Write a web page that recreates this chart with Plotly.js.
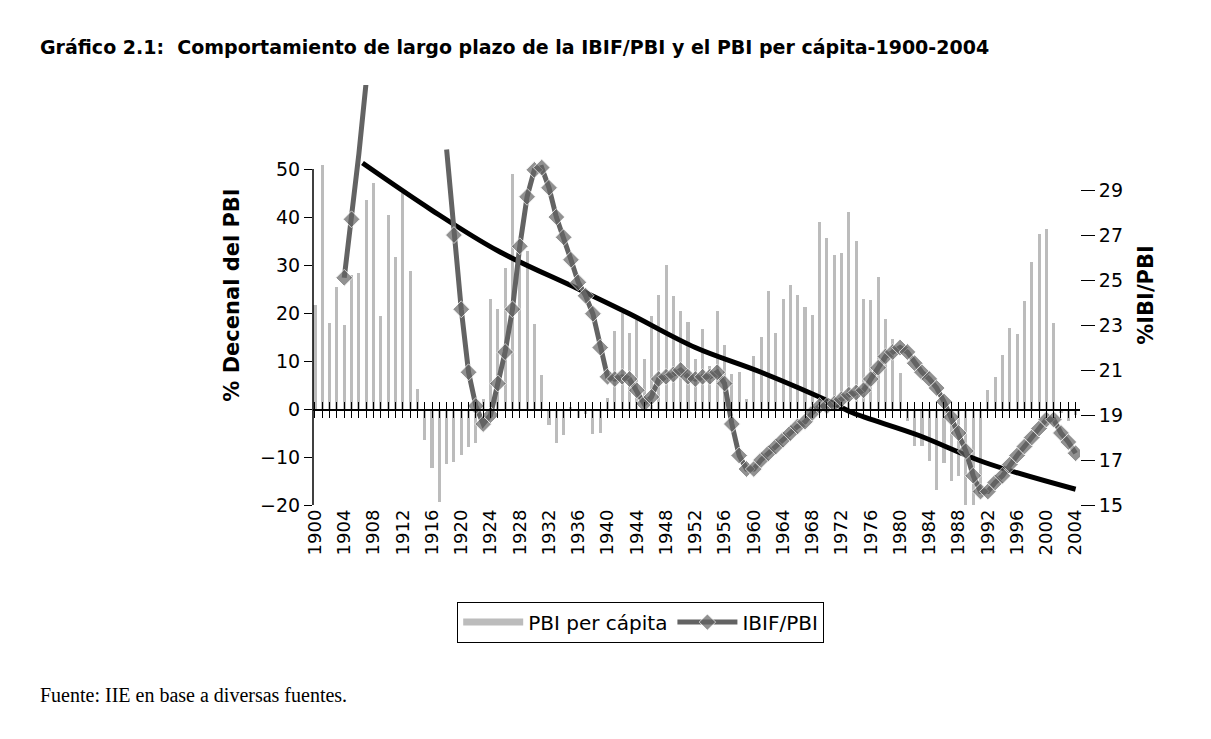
<!DOCTYPE html>
<html>
<head>
<meta charset="utf-8">
<script src="https://cdn.plot.ly/plotly-3.0.1.min.js"></script>
<style>
body { margin: 0; background: white; }
#graph { width: 1211px; height: 739px; }
</style>
</head>
<body>
<div id="graph"></div>
<script>
// PBI per cápita, % decenal, 1900-2004
var years = [];
for (var y = 1900; y <= 2004; y++) years.push(y);
var pbi = [
  21.7, 50.8, 18, 25.4, 17.5, 28, 28.3, 43.6, 47, 19.4,
  40.4, 31.7, 45, 28.7, 4.2, -6.4, -12.2, -19.4, -11.5, -11,
  -9.5, -8, -7, 2, 22.9, 20.8, 29.3, 49, 32, 33,
  17.7, 7, -3.3, -7, -5.4, 0.5, -1.9, -1, -5.3, -5,
  2.3, 16.2, 20, 15.8, 18.6, 10.4, 19.3, 23.7, 30, 23.5,
  20.5, 18.2, 10.4, 16.7, 8.9, 20.5, 13.4, 7.2, 7.8, 2,
  11, 15.1, 24.5, 15.8, 23, 25.9, 23.7, 21.3, 19.5, 38.9,
  35.6, 32, 32.4, 41, 35, 23, 22.8, 27.5, 18.8, 14.6,
  7.6, -2.6, -7.8, -7.8, -10.9, -16.8, -11.2, -15, -14, -23.7,
  -23.4, -16.8, 4, 6.7, 11.3, 16.9, 15.7, 22.6, 30.6, 36.5,
  37.4, 17.9, -0.8, -2.6, -1.2
];
// IBIF/PBI (%), 1904-2004; null = sin dato visible
var ibif = [
  25.1, 27.7, 30.6, 33.8, null, null, null, null, null, null,
  null, null, null, null, 30.8, 27, 23.7, 20.9, 19.4, 18.6,
  19, 20.4, 21.8, 23.7, 26.5, 28.7, 29.9, 30, 29.1, 27.8,
  26.9, 25.9, 24.9, 24.3, 23.5, 22, 20.7, 20.6, 20.7, 20.6,
  20.1, 19.5, 19.8, 20.6, 20.7, 20.8, 21, 20.7, 20.6, 20.7,
  20.7, 20.9, 20.4, 18.6, 17.2, 16.6, 16.6, 17, 17.3, 17.6,
  17.9, 18.2, 18.5, 18.7, 19.1, 19.4, 19.4, 19.5, 19.7, 19.9,
  20, 20.1, 20.6, 21.1, 21.6, 21.8, 22, 21.8, 21.3, 20.9,
  20.6, 20.2, 19.6, 18.9, 18.2, 17.4, 16.3, 15.6, 15.6, 16,
  16.3, 16.8, 17.2, 17.6, 18, 18.4, 18.8, 18.8, 18.2, 17.8,
  17.3
];
var ibifYears = years.slice(4);
// marcadores ocultos en los puntos fuera de escala
var hiddenMarkers = [1906, 1907, 1918];
// tendencia
var trendYears = [1906.5, 1916, 1925, 1936, 1943, 1952, 1961, 1971, 1973.5, 1982.5, 1991.5, 2004];
var trendVals = [30.2, 28.1, 26.3, 24.6, 23.5, 22, 20.9, 19.5, 19.1, 18.1, 16.9, 15.7];
var xTicks = [];
for (var t = 1900; t <= 2004; t += 4) xTicks.push(t);

var fontFam = '"DejaVu Sans", sans-serif';
var markerSizes = ibifYears.map(function (yr) { return hiddenMarkers.indexOf(yr) >= 0 ? 0 : 13; });

var plot_data = [
  {type: 'bar', x: years, y: pbi, width: 0.42, marker: {color: '#bcbcbc'},
   showlegend: false, hoverinfo: 'x+y'},
  {type: 'scatter', mode: 'lines', x: [null], y: [null], name: 'PBI per cápita',
   line: {color: '#bcbcbc', width: 7}},
  {type: 'scatter', mode: 'lines', x: trendYears, y: trendVals, yaxis: 'y2',
   line: {color: 'black', width: 5, shape: 'spline'}, showlegend: false},
  {type: 'scatter', mode: 'lines+markers', x: ibifYears, y: ibif, yaxis: 'y2',
   name: 'IBIF/PBI', connectgaps: false,
   line: {color: '#636363', width: 5},
   marker: {symbol: 'diamond', size: markerSizes, color: '#636363'}},
  {type: 'scatter', x: [1950], y: [0], xaxis: 'x2', mode: 'none', showlegend: false, hoverinfo: 'skip'},
  {type: 'scatter', x: [1950], y: [0], xaxis: 'x3', mode: 'none', showlegend: false, hoverinfo: 'skip'}
];

var zeroPos = 20 / 87.5;
var layout = {
  width: 1211, height: 739,
  paper_bgcolor: 'white', plot_bgcolor: 'white',
  margin: {l: 313, r: 131, t: 85, b: 234},
  font: {family: fontFam, color: 'black', size: 19},
  bargap: 0,
  xaxis: {range: [1899.73, 2004.6], tickvals: xTicks, ticktext: xTicks.map(String),
          tickangle: -90, ticks: '', showline: false, showgrid: false, zeroline: false,
          tickfont: {size: 18}, fixedrange: true},
  xaxis2: {matches: 'x', overlaying: 'x', anchor: 'free', position: zeroPos, side: 'bottom',
           dtick: 1, tick0: 1900, ticks: 'outside', ticklen: 7, tickcolor: 'black',
           showticklabels: false, showline: true, linecolor: 'black', linewidth: 1.5,
           showgrid: false, zeroline: false},
  xaxis3: {matches: 'x', overlaying: 'x', anchor: 'free', position: zeroPos, side: 'top',
           dtick: 1, tick0: 1900, ticks: 'outside', ticklen: 7, tickcolor: 'black',
           showticklabels: false, showline: false, showgrid: false, zeroline: false},
  yaxis: {range: [-20, 67.5], tickvals: [-20, -10, 0, 10, 20, 30, 40, 50],
          ticks: 'outside', ticklen: 8, tickcolor: 'black', showgrid: false, zeroline: false,
          showline: false, tickfont: {size: 19},
          title: {text: '<b>% Decenal del PBI</b>', font: {size: 21}, standoff: 14}},
  yaxis2: {overlaying: 'y', side: 'right', range: [15, 33.67],
           tickvals: [15, 17, 19, 21, 23, 25, 27, 29], ticks: 'outside', ticklen: 14,
           tickcolor: 'black', showgrid: false, zeroline: false, showline: false,
           tickfont: {size: 19},
           title: {text: '<b>%IBI/PBI</b>', font: {size: 21}, standoff: 16}},
  shapes: [
    {type: 'line', xref: 'paper', yref: 'y', x0: 0, x1: 0, y0: -20, y1: 50,
     line: {color: 'black', width: 1.5}}
  ],
  legend: {orientation: 'h', x: 0.188, xanchor: 'left', y: -0.23, yanchor: 'top',
           bordercolor: 'black', borderwidth: 1, font: {size: 20},
           itemwidth: 60, tracegroupgap: 0},
  annotations: [
    {xref: 'paper', yref: 'paper', x: -0.358, y: 1.09, xanchor: 'left', yanchor: 'middle',
     showarrow: false, text: '<b>Gráfico 2.1:  Comportamiento de largo plazo de la IBIF/PBI y el PBI per cápita-1900-2004</b>',
     font: {size: 19, family: fontFam}},
    {xref: 'paper', yref: 'paper', x: -0.358, y: -0.452, xanchor: 'left', yanchor: 'middle',
     showarrow: false, text: 'Fuente: IIE en base a diversas fuentes.',
     font: {size: 20, family: '"Liberation Serif", "DejaVu Serif", serif'}}
  ]
};

Plotly.newPlot('graph', plot_data, layout, {displayModeBar: false, staticPlot: true});
</script>
</body>
</html>
